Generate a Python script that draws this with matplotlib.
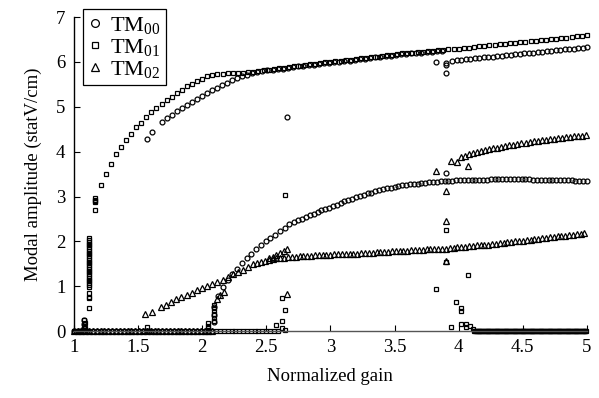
import numpy as np
import matplotlib
matplotlib.use('Agg')
from matplotlib import pyplot as plt

plt.rcParams['font.family'] = 'Liberation Serif'
plt.rcParams['mathtext.fontset'] = 'custom'
plt.rcParams['mathtext.rm'] = 'Liberation Serif'
plt.rcParams['mathtext.it'] = 'Liberation Serif:italic'

#-------------------------------------
# Data (x = normalized gain, y = statV/cm)
# each branch: (x_start, x_stop, y values) with even spacing in gain
#-------------------------------------
# TM00 (circles)
tm00_up1_x = [1.57, 1.61]
tm00_up1_y = [4.29, 4.44]
tm00_up2_y = [4.66, 4.74, 4.81, 4.90, 4.97, 5.05, 5.11, 5.18, 5.24, 5.31,
              5.37, 5.42, 5.48, 5.54, 5.59, 5.64, 5.69, 5.72]          # 1.69 -> 2.35
tm00_up3_y = [5.75, 5.77, 5.79, 5.81, 5.82, 5.84, 5.85, 5.87, 5.88, 5.90,
              5.91, 5.93, 5.94, 5.95, 5.97, 5.98, 6.00, 6.01, 6.02, 6.03,
              6.05, 6.06, 6.07, 6.09, 6.10, 6.11, 6.13, 6.14, 6.16, 6.17,
              6.18, 6.19, 6.20, 6.21, 6.22, 6.23, 6.24, 6.25]          # 2.39 -> 3.87
tm00_up4_y = [6.03, 6.04, 6.05, 6.06, 6.07, 6.08, 6.09, 6.10, 6.11, 6.12,
              6.13, 6.14, 6.15, 6.16, 6.17, 6.18, 6.19, 6.20, 6.21, 6.22,
              6.23, 6.24, 6.25, 6.26, 6.27, 6.28, 6.29, 6.30, 6.31, 6.32,
              6.33]                                                    # 3.95 -> 5.00
tm00_mid1_y = [0.54, 0.78, 0.98, 1.15, 1.27, 1.38, 1.51, 1.62, 1.73, 1.82,
               1.92, 2.00, 2.08, 2.15, 2.23, 2.30, 2.38]               # 2.09 -> 2.68
tm00_mid2_y = [2.43, 2.47, 2.51, 2.55, 2.58, 2.62, 2.66, 2.69, 2.72, 2.75,
               2.78, 2.82, 2.85, 2.89, 2.92, 2.95, 2.98, 3.01, 3.04, 3.07,
               3.09, 3.12, 3.14, 3.16, 3.18, 3.20, 3.22, 3.24, 3.25, 3.26,
               3.27, 3.28, 3.29, 3.30, 3.31, 3.32, 3.32, 3.33, 3.34, 3.34,
               3.35, 3.35, 3.36, 3.36, 3.37, 3.37, 3.37, 3.38, 3.38, 3.38,
               3.38, 3.39, 3.39, 3.39, 3.39, 3.39, 3.39, 3.39, 3.39, 3.39,
               3.39, 3.39, 3.38, 3.38, 3.38, 3.38, 3.38, 3.37, 3.37, 3.37,
               3.36, 3.36, 3.36, 3.35, 3.35, 3.34, 3.34]               # 2.72 -> 5.00
tm00_odd_x = [2.66, 3.82, 3.90, 3.90, 3.90, 3.90, 1.08, 1.08, 1.08, 2.09, 2.09]
tm00_odd_y = [4.77, 6.00, 5.97, 5.93, 5.76, 3.53, 0.08, 0.16, 0.24, 0.20, 0.35]

# TM01 (squares)
tm01_up1_y = [2.93, 3.25, 3.51, 3.73, 3.94, 4.10, 4.25, 4.40, 4.54, 4.65,
              4.77, 4.88, 4.97, 5.07, 5.16, 5.23, 5.31, 5.38, 5.46, 5.52,
              5.57, 5.63, 5.68, 5.72]                                  # 1.17 -> 2.08
tm01_up2_y = [5.74, 5.74, 5.75, 5.75, 5.75, 5.76, 5.77, 5.78, 5.80, 5.81,
              5.83, 5.84, 5.86, 5.87, 5.89, 5.90, 5.92, 5.93, 5.95, 5.96,
              5.97, 5.99, 6.00, 6.02, 6.03, 6.04, 6.05, 6.07, 6.08, 6.09,
              6.11, 6.12, 6.13, 6.15, 6.16, 6.18, 6.19, 6.20, 6.21, 6.22,
              6.23, 6.24, 6.25, 6.26, 6.27, 6.28, 6.29, 6.30, 6.31, 6.32,
              6.34, 6.35, 6.36, 6.37, 6.38, 6.40, 6.41, 6.42, 6.43, 6.44,
              6.45, 6.46, 6.47, 6.48, 6.49, 6.51, 6.52, 6.53, 6.54, 6.56,
              6.57, 6.58, 6.60]                                        # 2.12 -> 5.00
tm01_spike_y = [2.07, 2.03, 1.99, 1.95, 1.91, 1.87, 1.83, 1.79, 1.75, 1.71,
                1.67, 1.63, 1.59, 1.55, 1.51, 1.47, 1.43, 1.39, 1.35, 1.31,
                1.27, 1.23, 1.19, 1.15, 1.11, 1.07, 1.03, 0.98, 0.84, 0.76,
                0.73, 0.51]                                            # at gain 1.12
tm01_odd_x = [1.17, 1.17, 1.17, 1.17, 1.08, 1.08, 1.09, 1.09, 1.57,
              2.05, 2.05, 2.05, 2.09, 2.09, 2.09, 2.09, 2.09, 2.09,
              2.65, 2.62, 2.65, 2.62, 2.58, 2.62, 2.65,
              3.90, 3.90, 4.07, 3.82, 3.98, 4.02, 4.02, 3.94, 4.02, 4.06, 4.06, 4.09, 4.11]
tm01_odd_y = [2.96, 2.91, 2.87, 2.69, 0.12, 0.24, 0.06, 0.18, 0.10,
              0.06, 0.12, 0.18, 0.22, 0.30, 0.38, 0.45, 0.52, 0.58,
              3.03, 0.73, 0.47, 0.23, 0.13, 0.06, 0.02,
              2.26, 1.55, 1.25, 0.94, 0.65, 0.52, 0.45, 0.10, 0.17, 0.17, 0.10, 0.12, 0.05]

# TM02 (triangles)
tm02_low0_x = [1.555, 1.61]
tm02_low0_y = [0.39, 0.43]
tm02_low1_y = [0.54, 0.59, 0.65, 0.71, 0.75, 0.80, 0.85, 0.91, 0.96, 1.01,
               1.06, 1.10, 1.15, 1.21, 1.27, 1.32, 1.37, 1.43, 1.49]   # 1.68 -> 2.40
tm02_low2_y = [1.52, 1.55, 1.57, 1.59, 1.61, 1.62, 1.63, 1.64, 1.65, 1.66,
               1.66, 1.67, 1.67, 1.68, 1.68, 1.69, 1.69, 1.70, 1.70, 1.70,
               1.71, 1.71, 1.72, 1.72, 1.73, 1.73, 1.73, 1.74, 1.74, 1.75,
               1.75, 1.76, 1.76, 1.77, 1.77, 1.78, 1.78, 1.78, 1.79, 1.79,
               1.80, 1.80, 1.81, 1.81, 1.82, 1.82, 1.83, 1.83, 1.84, 1.84,
               1.85, 1.86, 1.87, 1.88, 1.88, 1.89, 1.90, 1.91, 1.91, 1.92,
               1.93, 1.94, 1.95, 1.96, 1.97, 1.98, 1.99, 2.00, 2.01, 2.02,
               2.03, 2.04, 2.05, 2.06, 2.07, 2.08, 2.09, 2.10, 2.11, 2.12,
               2.13, 2.14, 2.15, 2.16, 2.17, 2.19]                     # 2.43 -> 4.98
tm02_up_y = [3.88, 3.91, 3.94, 3.97, 4.00, 4.02, 4.04, 4.06, 4.08, 4.09,
             4.11, 4.13, 4.14, 4.16, 4.17, 4.19, 4.20, 4.22, 4.23, 4.24,
             4.25, 4.27, 4.28, 4.29, 4.30, 4.31, 4.32, 4.33, 4.34, 4.35,
             4.36, 4.37]                                               # 4.02 -> 4.99
tm02_odd_x = [2.52, 2.55, 2.58, 2.61, 2.64, 2.66, 2.12, 2.14, 2.17, 2.66,
              3.94, 3.99, 3.82, 4.07, 3.90, 3.90, 3.90]
tm02_odd_y = [1.62, 1.66, 1.70, 1.74, 1.78, 1.83, 0.72, 0.80, 0.87, 0.82,
              3.79, 3.76, 3.58, 3.67, 3.12, 2.45, 1.57]

# zero-amplitude runs (gain intervals where the mode sits at 0)
tm00_zero = [(1.00, 2.08, 0.03)]
tm01_zero = [(1.00, 1.10, 0.02), (1.55, 1.60, 0.02), (2.11, 2.60, 0.03), (4.12, 5.00, 0.007)]
tm02_zero = [(1.00, 2.10, 0.03)]


def span(x0, x1, y):
    return np.linspace(x0, x1, len(y)), np.array(y)


def zeros(runs):
    xs = np.concatenate([np.arange(a, b + 1e-9, s) for a, b, s in runs])
    return xs, np.zeros_like(xs)


tm00 = [(tm00_up1_x, tm00_up1_y), span(1.69, 2.35, tm00_up2_y), span(2.39, 3.87, tm00_up3_y),
        span(3.95, 5.00, tm00_up4_y), span(2.09, 2.68, tm00_mid1_y), span(2.72, 5.00, tm00_mid2_y),
        (tm00_odd_x, tm00_odd_y), zeros(tm00_zero)]
tm01 = [span(1.17, 2.08, tm01_up1_y), span(2.12, 5.00, tm01_up2_y),
        (np.full(len(tm01_spike_y), 1.12), tm01_spike_y), (tm01_odd_x, tm01_odd_y), zeros(tm01_zero)]
tm02 = [(tm02_low0_x, tm02_low0_y), span(1.68, 2.40, tm02_low1_y), span(2.43, 4.98, tm02_low2_y),
        span(4.02, 4.99, tm02_up_y), (tm02_odd_x, tm02_odd_y), zeros(tm02_zero)]


def join(parts):
    return np.concatenate([np.asarray(p[0]) for p in parts]), np.concatenate([np.asarray(p[1]) for p in parts])


#-------------------------------------
# Figure
#-------------------------------------
fig = plt.figure(figsize=(5.99, 3.98), dpi=100)
ax = fig.add_axes([0.123, 0.168, 0.857, 0.789])

styles = [('o', 3.5, r'TM$_{00}$', tm00), ('s', 3.0, r'TM$_{01}$', tm01), ('^', 3.8, r'TM$_{02}$', tm02)]
for mk, ms, lab, parts in styles:
    x, y = join(parts)
    ax.plot(x, y, ls='none', marker=mk, ms=ms, mfc='none', mec='black', mew=0.9,
            label=lab, clip_on=False)

ax.set_xlim(1, 5)
ax.set_ylim(0, 7)
ax.set_xticks([1, 1.5, 2, 2.5, 3, 3.5, 4, 4.5, 5])
ax.set_xticklabels(['1', '1.5', '2', '2.5', '3', '3.5', '4', '4.5', '5'])
ax.set_yticks(range(8))
ax.spines['top'].set_visible(False)
ax.spines['right'].set_visible(False)
ax.spines['left'].set_linewidth(1.0)
ax.spines['bottom'].set_linewidth(1.0)
ax.spines['bottom'].set_color('#555555')
ax.tick_params(direction='in', length=4, width=0.8, labelsize=13.5, pad=6)

ax.set_xlabel('Normalized gain', fontsize=13.5, labelpad=8)
ax.set_ylabel('Modal amplitude (statV/cm)', fontsize=13.5, labelpad=10)

leg = ax.legend(loc='upper left', bbox_to_anchor=(83 / 599, 1 - 9 / 398), bbox_transform=fig.transFigure,
                borderaxespad=0, fancybox=False, edgecolor='black', fontsize=16, markerscale=1.6,
                handlelength=0.6, handletextpad=0.35, borderpad=0.25, labelspacing=0.05, framealpha=1)
leg.get_frame().set_linewidth(0.9)

fig.savefig('out.png', dpi=100)
